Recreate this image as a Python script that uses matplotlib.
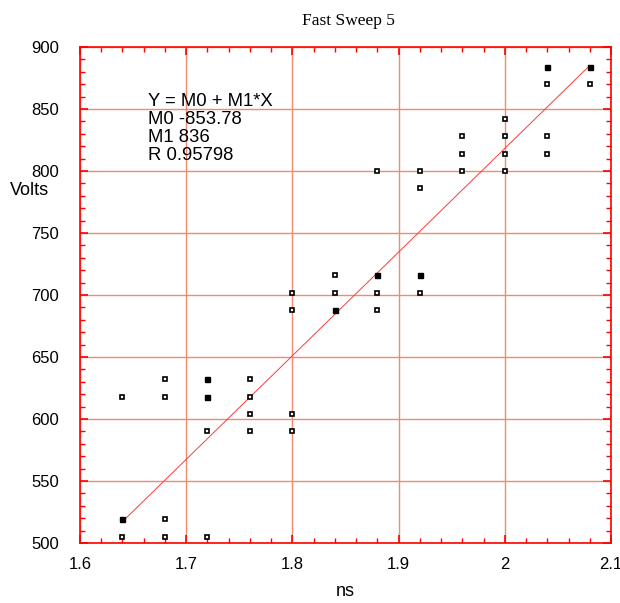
#!/usr/bin/env python3

import matplotlib
matplotlib.use('Agg')
import matplotlib.pyplot as plt
import numpy as np

# Measured points (ns, Volts)
ns_open = [1.64, 1.64, 1.68, 1.68, 1.68, 1.68, 1.72, 1.72, 1.76, 1.76, 1.76, 1.76,
           1.80, 1.80, 1.80, 1.80, 1.84, 1.84, 1.88, 1.88, 1.88, 1.92, 1.92, 1.92,
           1.96, 1.96, 1.96, 2.00, 2.00, 2.00, 2.00, 2.04, 2.04, 2.04, 2.08]
volts_open = [618, 505, 632, 618, 519, 505, 590, 505, 632, 618, 604, 590,
              702, 688, 604, 590, 716, 702, 800, 702, 688, 800, 786, 702,
              828, 814, 800, 842, 828, 814, 800, 870, 828, 814, 870]

ns_filled = [1.64, 1.72, 1.72, 1.84, 1.88, 1.92, 2.04, 2.08]
volts_filled = [519, 632, 618, 688, 716, 716, 884, 884]

# Linear fit parameters shown on the chart
m0 = -853.78
m1 = 836
r = 0.95798
fit_range = [1.64, 2.08]

plt.rcParams['font.family'] = ['Liberation Sans', 'DejaVu Sans']

fig = plt.figure(figsize=(6.2, 6.03), dpi=100)
ax = fig.add_axes([0.129, 0.0995, 0.8565, 0.8225])

ax.set_xlim(1.6, 2.1)
ax.set_ylim(500, 900)
ax.set_xticks([1.6, 1.7, 1.8, 1.9, 2.0, 2.1])
ax.set_xticklabels(['1.6', '1.7', '1.8', '1.9', '2', '2.1'])
ax.set_yticks(np.arange(500, 901, 50))
ax.set_xticks(np.arange(1.6, 2.1, 0.02), minor=True)
ax.set_yticks(np.arange(500, 901, 10), minor=True)

grid_color = '#f28a70'
ax.grid(True, which='major', color=grid_color, linewidth=1.0)
ax.set_axisbelow(True)

for s in ax.spines.values():
    s.set_color('#ff0000')
    s.set_linewidth(1.2)

ax.tick_params(which='both', direction='in', top=True, right=True, color='#ff0000',
               labelsize=12)
ax.tick_params(axis='x', which='major', pad=10)
ax.tick_params(axis='y', which='major', pad=15)
ax.tick_params(which='major', length=6, width=1.2)
ax.tick_params(which='minor', length=3.5, width=1.0)

# Regression line
xf = np.array(fit_range)
ax.plot(xf, m0 + m1 * xf, color='#ff3a3a', linewidth=0.7, zorder=2)

ax.plot(ns_open, volts_open, linestyle='none', marker='s', markersize=2.8,
        markerfacecolor='white', markeredgecolor='black', markeredgewidth=1.2, zorder=3)
ax.plot(ns_filled, volts_filled, linestyle='none', marker='s', markersize=3.6,
        markerfacecolor='black', markeredgecolor='black', markeredgewidth=1.0, zorder=3)

ax.text(0.128, 0.907, 'Y = M0 + M1*X\nM0 %.2f\nM1 %d\nR %.5f' % (m0, m1, r),
        transform=ax.transAxes, fontsize=13.3, va='top', ha='left', linespacing=1.08)

ax.set_xlabel('ns', fontsize=13, labelpad=8)
ax.set_ylabel('Volts', fontsize=13, rotation=0, va='center', ha='center')
ax.yaxis.set_label_coords(-0.095, 0.71)

fig.text(0.5615, 0.966, 'Fast Sweep 5', ha='center', va='center',
         fontsize=12.5, family=['Liberation Serif', 'DejaVu Serif'])

fig.savefig('out.png', dpi=100)
